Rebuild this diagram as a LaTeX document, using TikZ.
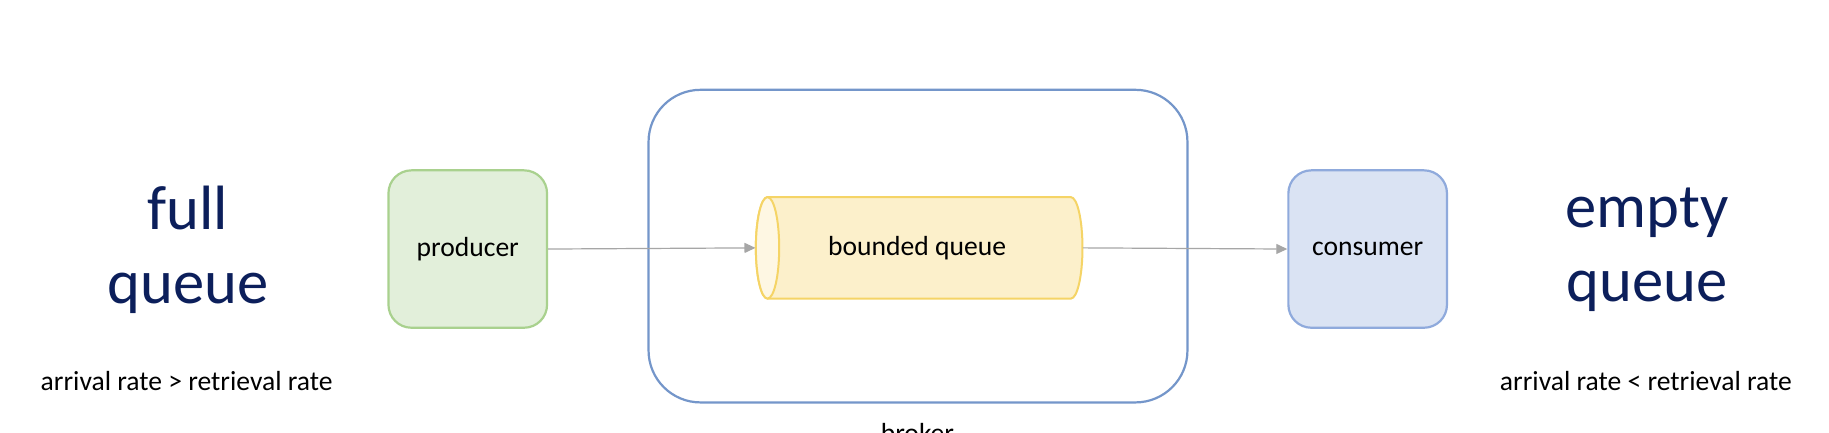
\documentclass[tikz,border=0pt]{standalone}
\usepackage{fontspec}
\setmainfont{Carlito}
\usetikzlibrary{arrows.meta}
\definecolor{navy}{HTML}{0C1F5B}
\definecolor{prodfill}{HTML}{E2EFDA}
\definecolor{proddraw}{HTML}{A9D18E}
\definecolor{consfill}{HTML}{DAE3F3}
\definecolor{consdraw}{HTML}{8FAADC}
\definecolor{brokdraw}{HTML}{7496CA}
\definecolor{cylfill}{HTML}{FCF0CB}
\definecolor{cylface}{HTML}{FEF7E3}
\definecolor{cyldraw}{HTML}{F5D466}
\definecolor{arrowgray}{HTML}{A6A6A6}
\begin{document}
\begin{tikzpicture}[x=0.58323pt,y=-0.58323pt,
  box/.style={rounded corners=11.5pt,minimum width=79.3pt,minimum height=78.7pt,line width=1.1pt,font=\fontsize{13.8pt}{16pt}\selectfont,inner sep=0pt},
  big/.style={font=\fontsize{31.3pt}{36.7pt}\selectfont,text=navy,align=center},
  small/.style={font=\fontsize{13.8pt}{16pt}\selectfont},
  conn/.style={draw=arrowgray,line width=0.6pt,-{Triangle[length=5.5pt,width=5pt]}}]
\clip (0,0) rectangle (1568,371);
\useasboundingbox (0,0) rectangle (1568,371);
\fill[white] (0,0) rectangle (1568,371);
% broker
\draw[brokdraw,line width=1.1pt,rounded corners=26pt] (556,77) rectangle (1018,345);
\node[small,anchor=base] (brk) at (786.5,379) {broker};
% cylinder
\draw[cyldraw,fill=cylfill,line width=1pt] (658,169) -- (918,169)
  arc[start angle=-90,end angle=90,x radius=10,y radius=43.5] -- (658,256)
  arc[start angle=90,end angle=270,x radius=10,y radius=43.5] -- cycle;
\draw[cyldraw,fill=cylface,line width=1pt] (658,212.5) ellipse[x radius=10,y radius=43.5];
\node[small,minimum width=163.3pt,minimum height=50.7pt,inner sep=0pt] (q) at (788,212.5) {\hspace*{-2pt}bounded queue};
% producer / consumer
\node[box,draw=proddraw,fill=prodfill] (prod) at (401,213.5) {producer};
\node[box,draw=consdraw,fill=consfill] (cons) at (1172.5,213.5) {consumer};
% arrows
\draw[conn] (prod.east) -- (q.west);
\draw[conn] (q.east) -- (cons.west);
% side texts
\node[big] (full) at (161,214) {full\\queue};
\node[small] (arr1) at (160,327) {arrival rate > retrieval rate};
\node[big] (empty) at (1412,214) {empty\\queue};
\node[small] (arr2) at (1411,327) {arrival rate < retrieval rate};
\end{tikzpicture}
\end{document}
